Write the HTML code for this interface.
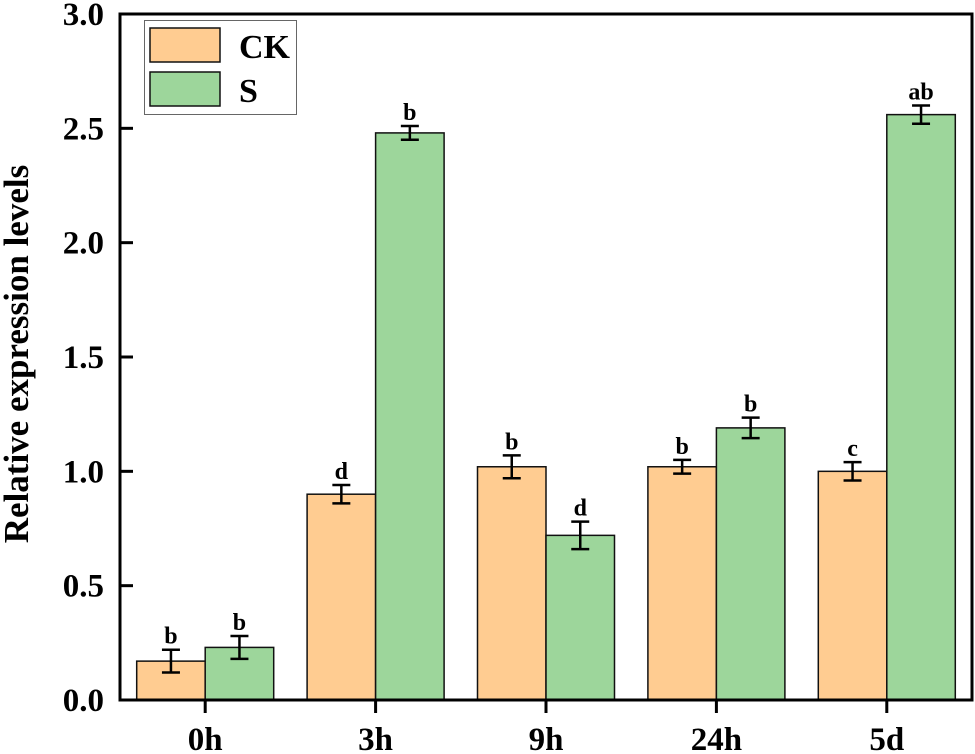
<!DOCTYPE html>
<html><head><meta charset="utf-8"><style>
body{margin:0;background:#fff}
svg{display:block;font-family:"Liberation Serif",serif;font-weight:bold}
</style></head><body>
<svg id="chart" width="975" height="754" viewBox="0 0 975 754" xmlns="http://www.w3.org/2000/svg"></svg>
<script>
const categories = ["0h","3h","9h","24h","5d"];
const ckValues = [0.17,0.90,1.02,1.02,1.00];
const ckErrors = [0.05,0.04,0.05,0.03,0.04];
const ckLetters = ["b","d","b","b","c"];
const sValues = [0.23,2.48,0.72,1.19,2.56];
const sErrors = [0.05,0.03,0.06,0.045,0.04];
const sLetters = ["b","b","d","b","ab"];
const yTicks = [0.0,0.5,1.0,1.5,2.0,2.5,3.0];

const L=120,R=972,T=14,B=700,yMax=3.0;
const NS="http://www.w3.org/2000/svg";
const svg=document.getElementById('chart');
const y=v=>B-(v/yMax)*(B-T);
const band=(R-L)/categories.length;
const xc=i=>L+band*(i+0.5);
const bw=68.5;
function mk(tag,attrs,parent){const e=document.createElementNS(NS,tag);for(const k in attrs)e.setAttribute(k,attrs[k]);(parent||svg).appendChild(e);return e;}

function bars(vals,errs,lets,fill,off,name){
  vals.forEach((v,i)=>{
    const x0=xc(i)+off;
    const r=mk('rect',{x:x0,y:y(v),width:bw,height:B-y(v),fill:fill,stroke:'#111','stroke-width':1.5});
    
    
    const cx=x0+bw/2,e=errs[i];
    const g=mk('g',{stroke:'#000','stroke-width':2.5});
    
    
    mk('line',{x1:cx,x2:cx,y1:y(v+e),y2:y(v-e)},g);
    mk('line',{x1:cx-9,x2:cx+9,y1:y(v+e),y2:y(v+e)},g);
    mk('line',{x1:cx-9,x2:cx+9,y1:y(v-e),y2:y(v-e)},g);
    const t=mk('text',{x:cx,y:y(v+e)-6,'text-anchor':'middle','font-size':24});
    t.textContent=lets[i];
    
    
  });
}
bars(ckValues,ckErrors,ckLetters,'#ffcc91',-bw,'ck');
bars(sValues,sErrors,sLetters,'#9dd69b',0,'s');

const f=mk('rect',{x:L,y:T,width:R-L,height:B-T,fill:'none',stroke:'#000','stroke-width':3});



yTicks.forEach(v=>{
  mk('line',{x1:L,x2:L+13,y1:y(v),y2:y(v),stroke:'#000','stroke-width':3});
  const t=mk('text',{x:L-16,y:y(v)+11,'text-anchor':'end','font-size':33});
  t.textContent=v.toFixed(1);
  
  
});
categories.forEach((c,i)=>{
  mk('line',{x1:xc(i),x2:xc(i),y1:B,y2:B+13,stroke:'#000','stroke-width':3});
  const t=mk('text',{x:xc(i),y:B+50,'text-anchor':'middle','font-size':33});
  t.textContent=c;
  
  
});
const yt=mk('text',{x:0,y:0,'text-anchor':'middle','font-size':35,transform:'translate(28,354) rotate(-90)'});
yt.textContent='Relative expression levels';



const lg=mk('g',{});


mk('rect',{x:144.5,y:20.5,width:152,height:94,fill:'#fff',stroke:'#666','stroke-width':1},lg);
[['CK','#ffcc91',28],['S','#9dd69b',72]].forEach(([n,c,yy])=>{
  const e=mk('g',{},lg);
  
  
  mk('rect',{x:150,y:yy,width:70,height:34,fill:c,stroke:'#111','stroke-width':1.5},e);
  const t=mk('text',{x:239,y:yy+30,'font-size':34},e);
  t.textContent=n;
});
</script>
</body></html>
